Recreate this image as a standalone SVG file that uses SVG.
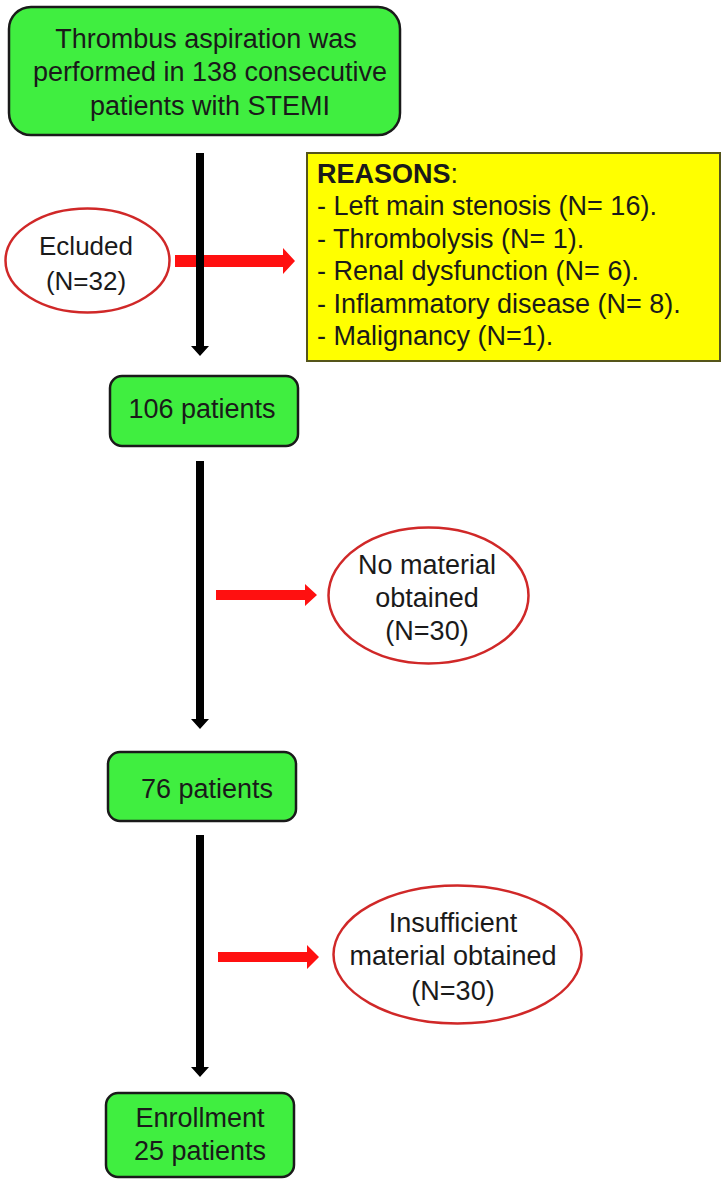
<svg xmlns="http://www.w3.org/2000/svg" width="725" height="1184" viewBox="0 0 725 1184">
<style>
text{font-family:"Liberation Sans",Arial,sans-serif;font-size:27px;fill:#1a1a1a}
.c{text-anchor:middle}
.box{fill:#40ee40;stroke:#1a1a1a;stroke-width:2.5}
.ell{fill:#ffffff;stroke:#d02828;stroke-width:2.5}
.yel{fill:#ffff00;stroke:#55551a;stroke-width:2}
.red{fill:#ff1010}
.blk{fill:#000000}
.b{font-weight:bold}
</style>
<rect width="725" height="1184" fill="#ffffff"/>
<g id="connectors">
<polygon class="red" points="175,255 283,255 283,248 295,261 283,274 283,267 175,267"/>
<polygon class="red" points="216,590 305,590 305,584 317,595 305,606 305,600 216,600"/>
<polygon class="red" points="218,952 307,952 307,945 319,957 307,969 307,962 218,962"/>
<polygon class="blk" points="196,153 204,153 204,346 209,346 200,356 191,346 196,346"/>
<polygon class="blk" points="196,461 204,461 204,719 209,719 200,729 191,719 196,719"/>
<polygon class="blk" points="196,835 204,835 204,1067 209,1067 200,1077 191,1067 196,1067"/>
</g>
<g id="start">
<rect class="box" x="9" y="7" width="391" height="128" rx="22"/>
<text class="c" x="206" y="48">Thrombus aspiration was</text>
<text class="c" x="210" y="81">performed in 138 consecutive</text>
<text class="c" x="210" y="115">patients with STEMI</text>
</g>
<g id="excluded">
<ellipse class="ell" cx="87.5" cy="260.5" rx="82" ry="52"/>
<text class="c" x="86" y="255" style="font-size:26px">Ecluded</text>
<text class="c" x="86" y="290" style="font-size:26px">(N=32)</text>
</g>
<g id="reasons">
<rect class="yel" x="307" y="153" width="413" height="208"/>
<text x="317" y="183"><tspan class="b">REASONS</tspan>:</text>
<text x="317" y="215">- Left main stenosis (N= 16).</text>
<text x="317" y="248">- Thrombolysis (N= 1).</text>
<text x="317" y="280">- Renal dysfunction (N= 6).</text>
<text x="317" y="313">- Inflammatory disease (N= 8).</text>
<text x="317" y="345">- Malignancy (N=1).</text>
</g>
<g id="n106">
<rect class="box" x="110" y="376" width="188" height="70" rx="12"/>
<text class="c" x="202" y="418">106 patients</text>
</g>
<g id="nomaterial">
<ellipse class="ell" cx="428.5" cy="595.5" rx="100" ry="68"/>
<text class="c" x="427" y="574">No material</text>
<text class="c" x="427" y="607">obtained</text>
<text class="c" x="427" y="640">(N=30)</text>
</g>
<g id="n76">
<rect class="box" x="108" y="752" width="188" height="69" rx="12"/>
<text class="c" x="207" y="798">76 patients</text>
</g>
<g id="insufficient">
<ellipse class="ell" cx="457.5" cy="954.5" rx="124" ry="69"/>
<text class="c" x="453" y="932">Insufficient</text>
<text class="c" x="453" y="965">material obtained</text>
<text class="c" x="453" y="1000">(N=30)</text>
</g>
<g id="enrollment">
<rect class="box" x="106" y="1093" width="188" height="84" rx="12"/>
<text class="c" x="200" y="1127">Enrollment</text>
<text class="c" x="200" y="1160">25 patients</text>
</g>
</svg>
